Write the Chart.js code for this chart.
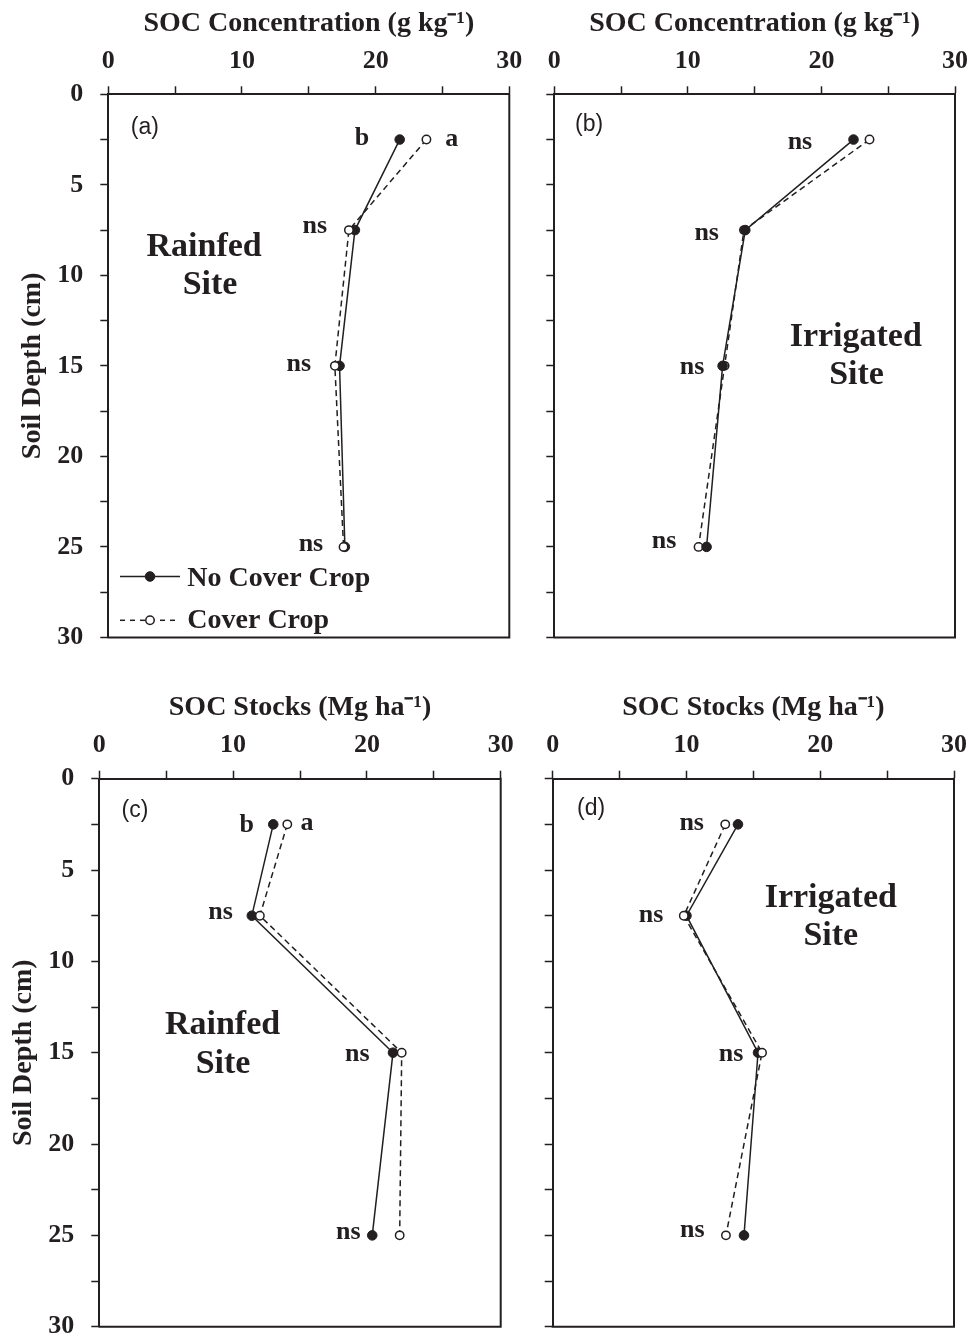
<!DOCTYPE html>
<html>
<head>
<meta charset="utf-8">
<script src="https://cdn.jsdelivr.net/npm/chart.js@4/dist/chart.umd.min.js"></script>
<style>
html,body{margin:0;padding:0;background:#fff;overflow:hidden;width:969px;height:1339px;position:relative;}
.panel{position:absolute;}
canvas{display:block;}
</style>
</head>
<body>
<div class="panel" style="left:0;top:0"><canvas id="pa" width="540" height="670"></canvas></div>
<div class="panel" style="left:530px;top:0"><canvas id="pb" width="460" height="670"></canvas></div>
<div class="panel" style="left:0;top:670px"><canvas id="pc" width="540" height="690"></canvas></div>
<div class="panel" style="left:530px;top:670px"><canvas id="pd" width="460" height="690"></canvas></div>
<script>
// ---------------- data ----------------
const depths = [2.5, 7.5, 15, 25];                 // soil depth (cm), mid-points
const seriesNames = ['No Cover Crop', 'Cover Crop'];

const concRainfedNoCC = [21.8, 18.45, 17.3, 17.7];
const concRainfedCC   = [23.8, 18.0, 16.95, 17.6];
const concIrrigNoCC   = [22.4, 14.3, 12.6, 11.4];
const concIrrigCC     = [23.6, 14.2, 12.75, 10.8];

const stockRainfedNoCC = [13.0, 11.4, 21.95, 20.4];
const stockRainfedCC   = [14.05, 12.0, 22.6, 22.45];
const stockIrrigNoCC   = [13.85, 10.0, 15.35, 14.3];
const stockIrrigCC     = [12.9, 9.8, 15.65, 12.95];

const xTickLabels = [0, 10, 20, 30];
const yTickLabels = [0, 5, 10, 15, 20, 25, 30];

const xTitleConc  = 'SOC Concentration (g kg\u207B\u00B9)';
const xTitleStock = 'SOC Stocks (Mg ha\u207B\u00B9)';
const yTitle = 'Soil Depth (cm)';

// text notes anchored in data space (value, depth)
const notesA = [
  {t:'b', x:18.97, y:2.8, k:'sig'}, {t:'a', x:25.7, y:2.86, k:'sig'},
  {t:'ns', x:15.45, y:7.68, k:'sig'}, {t:'ns', x:14.26, y:15.31, k:'sig'},
  {t:'ns', x:15.16, y:25.2, k:'sig'},
  {t:'Rainfed', x:7.17, y:8.95, k:'site'}, {t:'Site', x:7.61, y:11.04, k:'site'},
  {t:'(a)', x:2.74, y:2.22, k:'panel'}
];
const notesB = [
  {t:'ns', x:18.39, y:3.04, k:'sig'}, {t:'ns', x:11.41, y:8.04, k:'sig'},
  {t:'ns', x:10.31, y:15.44, k:'sig'}, {t:'ns', x:8.21, y:25.04, k:'sig'},
  {t:'Irrigated', x:22.57, y:13.91, k:'site'}, {t:'Site', x:22.63, y:15.98, k:'site'},
  {t:'(b)', x:2.6, y:2.04, k:'panel'}
];
const notesC = [
  {t:'b', x:11.02, y:2.9, k:'sig'}, {t:'a', x:15.52, y:2.81, k:'sig'},
  {t:'ns', x:9.07, y:7.7, k:'sig'}, {t:'ns', x:19.28, y:15.43, k:'sig'},
  {t:'ns', x:18.61, y:25.21, k:'sig'},
  {t:'Rainfed', x:9.21, y:13.97, k:'site'}, {t:'Site', x:9.25, y:16.09, k:'site'},
  {t:'(c)', x:2.67, y:2.08, k:'panel'}
];
const notesD = [
  {t:'ns', x:10.39, y:2.81, k:'sig'}, {t:'ns', x:7.35, y:7.83, k:'sig'},
  {t:'ns', x:13.33, y:15.43, k:'sig'}, {t:'ns', x:10.43, y:25.07, k:'sig'},
  {t:'Irrigated', x:20.79, y:7.0, k:'site'}, {t:'Site', x:20.79, y:9.1, k:'site'},
  {t:'(d)', x:2.87, y:1.99, k:'panel'}
];

// ---------------- style ----------------
const INK = '#231f20';
const SERIF = '"Liberation Serif", "Times New Roman", serif';
const SANS = '"Liberation Sans", Arial, sans-serif';
const tickFont = {family: SERIF, weight: 'bold', size: 26, lineHeight: 1.2};
const titleFont = {family: SERIF, weight: 'bold', size: 28, lineHeight: 1.2};
const noteFonts = {
  sig: 'bold 26px ' + SERIF,
  site: 'bold 34px ' + SERIF,
  panel: '23px ' + SANS
};

const framePlugin = {
  id: 'frame',
  afterDraw(chart) {
    const {ctx, chartArea: a} = chart;
    ctx.save();
    ctx.strokeStyle = INK; ctx.lineWidth = 2; ctx.setLineDash([]);
    ctx.beginPath();
    ctx.moveTo(a.right, a.top - 1);
    ctx.lineTo(a.right, a.bottom);
    ctx.lineTo(a.left - 1, a.bottom);
    ctx.stroke();
    ctx.restore();
  }
};

function makeNotes(items) {
  return {
    id: 'notes',
    afterDatasetsDraw(chart) {
      const {ctx, scales: {x, y}} = chart;
      ctx.save();
      ctx.fillStyle = INK;
      ctx.textAlign = 'center';
      ctx.textBaseline = 'alphabetic';
      for (const n of items) {
        ctx.font = noteFonts[n.k];
        ctx.fillText(n.t, x.getPixelForValue(n.x), y.getPixelForValue(n.y));
      }
      ctx.restore();
    }
  };
}

const legendPlugin = {
  id: 'insetLegend',
  afterDraw(chart) {
    const {ctx, chartArea: a} = chart;
    const rows = [{dy: 482.2, by: 491.7}, {dy: 526, by: 534}];
    ctx.save();
    chart.data.datasets.forEach((ds, i) => {
      const yy = a.top + rows[i].dy;
      ctx.strokeStyle = ds.borderColor;
      ctx.lineWidth = ds.borderWidth;
      ctx.setLineDash(ds.borderDash ? [5, 5] : []);
      ctx.beginPath();
      ctx.moveTo(a.left + 11.7, yy);
      ctx.lineTo(a.left + 71.7, yy);
      ctx.stroke();
      ctx.setLineDash([]);
      ctx.beginPath();
      ctx.arc(a.left + 41.7, yy, ds.pointRadius, 0, Math.PI * 2);
      ctx.fillStyle = ds.pointBackgroundColor;
      ctx.fill();
      ctx.lineWidth = ds.pointBorderWidth;
      ctx.strokeStyle = ds.pointBorderColor;
      ctx.stroke();
      ctx.fillStyle = INK;
      ctx.font = 'bold 28px ' + SERIF;
      ctx.textAlign = 'left';
      ctx.textBaseline = 'alphabetic';
      ctx.fillText(ds.label, a.left + 79, a.top + rows[i].by);
    });
    ctx.restore();
  }
};

function buildPanel(p) {
  const cv = document.getElementById(p.id);
  const W = cv.width, H = cv.height;
  const L = p.padLeft, T = 2;
  const pts = arr => arr.map((v, i) => ({x: v, y: depths[i]}));
  const gridOpts = {display: true, drawOnChartArea: false, drawTicks: true, tickLength: 8, tickWidth: 1.5, tickColor: INK};
  const borderOpts = {display: true, color: INK, width: 2};
  const datasets = [
    {label: seriesNames[0], data: pts(p.noCC), showLine: true, borderColor: INK, borderWidth: 1.5,
     pointRadius: 4.8, pointBorderWidth: 1, pointBackgroundColor: INK, pointBorderColor: INK,
     order: p.filledOnTop ? 0 : 1},
    {label: seriesNames[1], data: pts(p.cc), showLine: true, borderColor: INK, borderWidth: 1.5, borderDash: [6, 4],
     pointRadius: 4.2, pointBorderWidth: 1.5, pointBackgroundColor: '#ffffff', pointBorderColor: INK,
     order: p.filledOnTop ? 1 : 0}
  ];
  const plugins = [framePlugin, makeNotes(p.notes)];
  if (p.legend) plugins.push(legendPlugin);
  new Chart(cv, {
    type: 'scatter',
    data: {datasets},
    options: {
      responsive: false, animation: false, events: [],
      layout: {autoPadding: false, padding: {left: L, top: T, right: W - p.plot.right, bottom: H - p.plot.bottom}},
      plugins: {legend: {display: false}, tooltip: {enabled: false}},
      scales: {
        x: {
          type: 'linear', position: 'top', min: 0, max: 30,
          ticks: {stepSize: 5, autoSkip: false, maxRotation: 0, padding: 9.8, color: INK, font: tickFont,
                  callback: v => xTickLabels.includes(v) ? String(v) : ''},
          grid: gridOpts, border: borderOpts,
          title: {display: true, text: p.xTitle, color: INK, font: titleFont, padding: {top: p.xTitlePad, bottom: 0}},
          afterFit: s => { s.height = p.plot.top - T; }
        },
        y: {
          type: 'linear', position: 'left', reverse: true, min: 0, max: 30,
          ticks: {stepSize: 2.5, autoSkip: false, padding: 17, color: INK, font: tickFont,
                  callback: v => (p.yLabels && yTickLabels.includes(v)) ? String(v) : ''},
          grid: gridOpts, border: borderOpts,
          title: {display: !!p.yTitle, text: p.yTitle || '', color: INK, font: titleFont, padding: {top: p.yTitlePad || 0, bottom: 0}},
          afterFit: s => { s.width = p.plot.left - L; }
        }
      }
    },
    plugins
  });
}

buildPanel({id: 'pa', noCC: concRainfedNoCC, cc: concRainfedCC, notes: notesA, legend: true, filledOnTop: false,
  plot: {left: 108.3, top: 94.3, right: 509.3, bottom: 643.8}, padLeft: 10,
  xTitle: xTitleConc, xTitlePad: 4.8, yLabels: true, yTitle: yTitle, yTitlePad: 6.2});
buildPanel({id: 'pb', noCC: concIrrigNoCC, cc: concIrrigCC, notes: notesB, legend: false, filledOnTop: true,
  plot: {left: 24.3, top: 94.3, right: 425, bottom: 643.5}, padLeft: 4,
  xTitle: xTitleConc, xTitlePad: 4.8, yLabels: false});
buildPanel({id: 'pc', noCC: stockRainfedNoCC, cc: stockRainfedCC, notes: notesC, legend: false, filledOnTop: false,
  plot: {left: 99.3, top: 108.7, right: 500.7, bottom: 656.7}, padLeft: 2,
  xTitle: xTitleStock, xTitlePad: 18.8, yLabels: true, yTitle: yTitle, yTitlePad: 4.5});
buildPanel({id: 'pd', noCC: stockIrrigNoCC, cc: stockIrrigCC, notes: notesD, legend: false, filledOnTop: false,
  plot: {left: 22.7, top: 108.7, right: 424, bottom: 656.7}, padLeft: 4,
  xTitle: xTitleStock, xTitlePad: 18.8, yLabels: false});
</script>
</body>
</html>
